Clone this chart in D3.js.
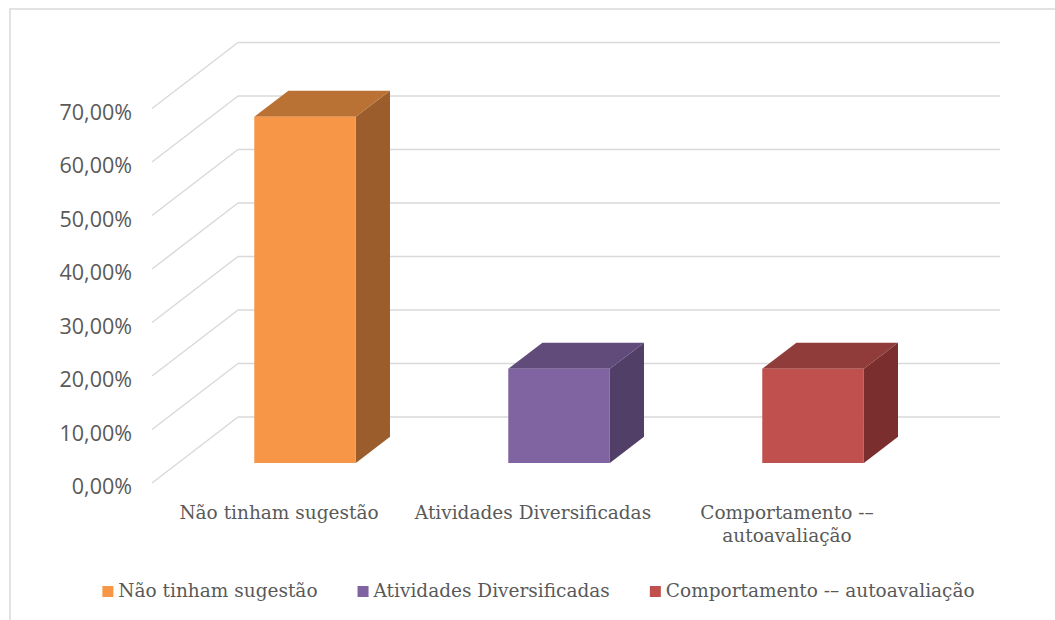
<!DOCTYPE html>
<html>
<head>
<meta charset="utf-8">
<script src="https://cdn.jsdelivr.net/npm/d3@7"></script>
<style>
  body { margin: 0; background: #fff; }
  svg { display: block; }
</style>
</head>
<body>
<svg class="chart" width="1055" height="620"></svg>
<script>
var categories = ["Não tinham sugestão", "Atividades Diversificadas", "Comportamento -– autoavaliação"];
var catLines = [["Não tinham sugestão"], ["Atividades Diversificadas"], ["Comportamento -–", "autoavaliação"]];
var values = [0.647, 0.176, 0.176];
var yTicks = [0, 0.1, 0.2, 0.3, 0.4, 0.5, 0.6, 0.7];
var frontColors = ["#f79646", "#8064a2", "#c0504d"];
var topColors = ["#b97134", "#604b7a", "#903c3a"];
var sideColors = ["#9a5d2b", "#513f68", "#7a2e2d"];

var svg = d3.select('svg.chart');
var width = +svg.attr("width");
var height = +svg.attr("height");

var serif = "'DejaVu Serif', serif";
var sans = "'Open Sans', sans-serif";
var textColor = "#595959";
var gridColor = "#d9d9d9";

// frame
svg.append('rect')
    .attr('x', 10).attr('y', 9)
    .attr('width', width + 20).attr('height', height + 20)
    .attr('fill', 'none')
    .attr('stroke', gridColor)
    .attr('stroke-width', 1.5);

// oblique projection: front floor origin + depth vector
var ox = 152, oy = 483;
var depthX = 86, depthY = -66;
var plotW = 762;

var x = d3.scaleBand()
    .domain(categories)
    .range([0, plotW])
    .paddingInner(0.6)
    .paddingOuter(0.3);

var y = d3.scaleLinear()
    .domain([0, 0.7])
    .range([0, 374.5]);

let proj = function (px, v, t) {
    return [ox + px + depthX * t, oy - y(v) + depthY * t];
}

var grid = svg.append('g')
    .attr('stroke', gridColor)
    .attr('stroke-width', 1.4)
    .attr('fill', 'none');

// back wall lines
grid.selectAll('.back')
    .data(yTicks)
    .enter()
    .append('line')
    .attr('x1', function (d) { return proj(0, d, 1)[0]; })
    .attr('y1', function (d) { return proj(0, d, 1)[1]; })
    .attr('x2', function (d) { return proj(plotW, d, 1)[0]; })
    .attr('y2', function (d) { return proj(plotW, d, 1)[1]; });

// side wall lines
grid.selectAll('.side')
    .data(yTicks)
    .enter()
    .append('line')
    .attr('x1', function (d) { return proj(0, d, 0)[0]; })
    .attr('y1', function (d) { return proj(0, d, 0)[1]; })
    .attr('x2', function (d) { return proj(0, d, 1)[0]; })
    .attr('y2', function (d) { return proj(0, d, 1)[1]; });

// y axis labels
var fmt = function (d) { return d3.format(".2f")(d * 100).replace('.', ',') + '%'; };
svg.append('g')
    .selectAll('text')
    .data(yTicks)
    .enter()
    .append('text')
    .attr('x', 132)
    .attr('y', function (d) { return oy - y(d) + 11; })
    .attr('text-anchor', 'end')
    .attr('font-family', sans)
    .attr('font-size', 21.5)
    .attr('fill', textColor)
    .text(fmt);

// bars
var t0 = 0.303, t1 = 0.70;
var bars = svg.append('g')
    .selectAll('.bar')
    .data(values)
    .enter()
    .append('g')
    .attr('class', 'bar');

let poly = function (pts) {
    return 'M' + pts.map(function (p) { return p.join(','); }).join('L') + 'Z';
}

bars.append('path')
    .attr('d', function (d, i) {
        var x0 = x(categories[i]), x1 = x0 + x.bandwidth();
        return poly([proj(x1, 0, t0), proj(x1, 0, t1), proj(x1, d, t1), proj(x1, d, t0)]);
    })
    .attr('fill', function (d, i) { return sideColors[i]; });

bars.append('path')
    .attr('d', function (d, i) {
        var x0 = x(categories[i]), x1 = x0 + x.bandwidth();
        return poly([proj(x0, d, t0), proj(x0, d, t1), proj(x1, d, t1), proj(x1, d, t0)]);
    })
    .attr('fill', function (d, i) { return topColors[i]; });

bars.append('path')
    .attr('d', function (d, i) {
        var x0 = x(categories[i]), x1 = x0 + x.bandwidth();
        return poly([proj(x0, 0, t0), proj(x1, 0, t0), proj(x1, d, t0), proj(x0, d, t0)]);
    })
    .attr('fill', function (d, i) { return frontColors[i]; });

// category labels
var catG = svg.append('g')
    .selectAll('text')
    .data(categories)
    .enter()
    .append('text')
    .attr('text-anchor', 'middle')
    .attr('font-family', serif)
    .attr('font-size', 18.5)
    .attr('fill', textColor)
    .attr('x', function (d) { return ox + x(d) + x.bandwidth() / 2; })
    .attr('y', 519);

catG.selectAll('tspan')
    .data(function (d, i) { return catLines[i]; })
    .enter()
    .append('tspan')
    .attr('x', function () { return d3.select(this.parentNode).attr('x'); })
    .attr('dy', function (d, j) { return j === 0 ? 0 : 23; })
    .text(function (d) { return d; });

// legend
var legend = svg.append('g');
var items = legend.selectAll('.item')
    .data(categories)
    .enter()
    .append('g')
    .attr('class', 'item');

items.append('rect')
    .attr('width', 11).attr('height', 11)
    .attr('y', 586)
    .attr('fill', function (d, i) { return frontColors[i]; });

items.append('text')
    .attr('x', 16)
    .attr('y', 597)
    .attr('font-family', serif)
    .attr('font-size', 18.5)
    .attr('fill', textColor)
    .text(function (d) { return d; });

var widths = [];
items.each(function () { widths.push(this.getBBox().width); });
var gap = 40;
var total = d3.sum(widths) + gap * (widths.length - 1);
var cx = 538.5 - total / 2;
items.attr('transform', function (d, i) {
    var tx = cx;
    cx += widths[i] + gap;
    return "translate(" + tx + ",0)";
});
</script>
</body>
</html>
